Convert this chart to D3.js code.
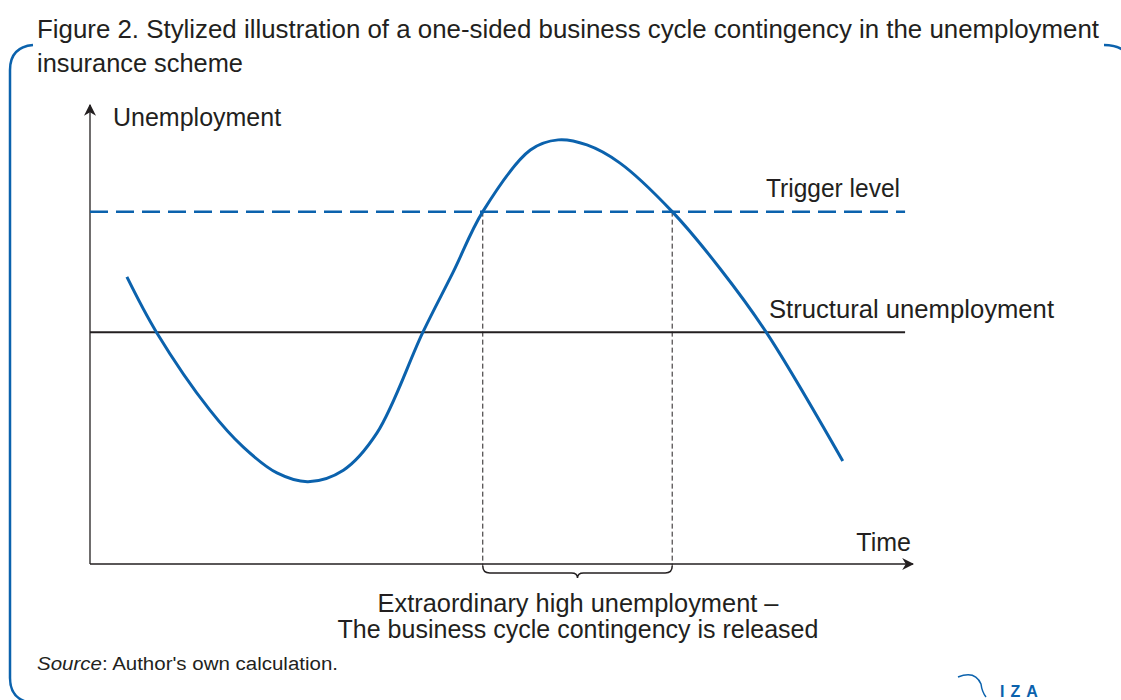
<!DOCTYPE html>
<html>
<meta charset="utf-8">
<script src="https://d3js.org/d3.v7.min.js"></script>
<style>
  body { margin: 0; background: #fff; }
  text { font-family: "Liberation Sans", Arial, sans-serif; fill: #231f20; }
</style>
<body>
<div id="chart"></div>
<script>
// stylized business cycle: time (0-100) vs unemployment (0-100)
var cycleTime = [4.5, 8.1, 14.6, 18.7, 22.8, 26.6, 30.9, 35.0, 40.6, 44.3,
                 47.9, 53.7, 57.1, 60.6, 64.6, 71.0, 76.8, 82.5, 91.8];
var cycleUnemp = [62.4, 50.4, 33.5, 25.4, 19.8, 17.9, 20.4, 28.5, 50.4, 63.5,
                  76.6, 90.0, 92.2, 91.1, 87.2, 76.6, 64.3, 50.3, 22.4];
var structuralLevel = 50.4;
var triggerLevel = 76.6;
var crossTimes = [47.9, 71.0];   // where the cycle crosses the trigger level
var lineEnd = 99.4;

var titleLines = ["Figure 2. Stylized illustration of a one-sided business cycle contingency in the unemployment",
                  "insurance scheme"];
var noteLines = ["Extraordinary high unemployment \u2013", "The business cycle contingency is released"];

var W = 1121, H = 700;
var blue = "#0b62ad";

var svg = d3.select("#chart").append("svg")
    .attr("width", W)
    .attr("height", H);

var x = d3.scaleLinear().domain([0, 100]).range([90, 910]);
var y = d3.scaleLinear().domain([0, 100]).range([564, 104]);

// stretch/shrink a text to the width it has in the figure
function fit(sel, w) {
  var n = sel.node();
  if (Math.abs(n.getComputedTextLength() - w) > 2) {
    sel.attr("textLength", w).attr("lengthAdjust", "spacingAndGlyphs");
  }
  return sel;
}

// frame
svg.append("path")
    .attr("d", "M33,45 Q10,47 10,70 L10,678 Q10,700 32,703")
    .attr("fill", "none").attr("stroke", blue).attr("stroke-width", 2.5);
svg.append("path")
    .attr("d", "M1104,45 Q1116,45 1123,50")
    .attr("fill", "none").attr("stroke", blue).attr("stroke-width", 2.5);

// title
fit(svg.append("text").attr("x", 37).attr("y", 38).style("font-size", "25px").text(titleLines[0]), 1062);
fit(svg.append("text").attr("x", 37).attr("y", 72).style("font-size", "25px").text(titleLines[1]), 206);

// arrow markers
var defs = svg.append("defs");
defs.append("marker")
    .attr("id", "arrow")
    .attr("viewBox", "0 0 10 10")
    .attr("refX", 9).attr("refY", 5)
    .attr("markerWidth", 12).attr("markerHeight", 12)
    .attr("markerUnits", "userSpaceOnUse")
    .attr("orient", "auto")
  .append("path")
    .attr("d", "M0,0 L10,5 L0,10 L3,5 Z")
    .attr("fill", "#231f20");

// axes
svg.append("line")
    .attr("x1", x(0)).attr("x2", x(0))
    .attr("y1", y(0)).attr("y2", y(100) + 1)
    .attr("stroke", "#231f20").attr("stroke-width", 1.3)
    .attr("marker-end", "url(#arrow)");
svg.append("line")
    .attr("x1", x(0)).attr("x2", x(100) + 3)
    .attr("y1", y(0)).attr("y2", y(0))
    .attr("stroke", "#231f20").attr("stroke-width", 1.3)
    .attr("marker-end", "url(#arrow)");

// structural unemployment
svg.append("line")
    .attr("x1", x(0)).attr("x2", x(lineEnd))
    .attr("y1", y(structuralLevel)).attr("y2", y(structuralLevel))
    .attr("stroke", "#231f20").attr("stroke-width", 2);

// trigger level
svg.append("line")
    .attr("x1", x(0)).attr("x2", x(lineEnd))
    .attr("y1", y(triggerLevel)).attr("y2", y(triggerLevel))
    .attr("stroke", blue).attr("stroke-width", 2.5)
    .attr("stroke-dasharray", "18,8");

// vertical dashed lines at crossings
svg.selectAll(".cross")
    .data(crossTimes)
  .enter().append("line")
    .attr("class", "cross")
    .attr("x1", function(d) { return x(d); })
    .attr("x2", function(d) { return x(d); })
    .attr("y1", y(triggerLevel))
    .attr("y2", y(0) + 2)
    .attr("stroke", "#231f20").attr("stroke-width", 1)
    .attr("stroke-dasharray", "5,3");

// brace under the axis
var bx0 = x(crossTimes[0]), bx1 = x(crossTimes[1]), bm = (bx0 + bx1) / 2;
var by = y(0);
svg.append("path")
    .attr("d", "M" + bx0 + "," + (by + 2) +
               " Q" + bx0 + "," + (by + 9) + " " + (bx0 + 7) + "," + (by + 9) +
               " L" + (bm - 6) + "," + (by + 9) +
               " Q" + bm + "," + (by + 9) + " " + bm + "," + (by + 14) +
               " Q" + bm + "," + (by + 9) + " " + (bm + 6) + "," + (by + 9) +
               " L" + (bx1 - 7) + "," + (by + 9) +
               " Q" + bx1 + "," + (by + 9) + " " + bx1 + "," + (by + 2))
    .attr("fill", "none").attr("stroke", "#231f20").attr("stroke-width", 1.5);

// business cycle curve
var cycle = cycleTime.map(function(t, i) { return { t: t, u: cycleUnemp[i] }; });
var line = d3.line()
    .x(function(d) { return x(d.t); })
    .y(function(d) { return y(d.u); })
    .curve(d3.curveCatmullRom.alpha(0.5));
svg.append("path")
    .datum(cycle)
    .attr("d", line)
    .attr("fill", "none")
    .attr("stroke", blue)
    .attr("stroke-width", 3);

// labels
fit(svg.append("text").attr("x", 113).attr("y", 126).style("font-size", "25px").text("Unemployment"), 170);
fit(svg.append("text").attr("x", 900).attr("y", 197).attr("text-anchor", "end").style("font-size", "25px").text("Trigger level"), 134);
fit(svg.append("text").attr("x", 769).attr("y", 318).style("font-size", "25px").text("Structural unemployment"), 285);
fit(svg.append("text").attr("x", 911).attr("y", 551).attr("text-anchor", "end").style("font-size", "25px").text("Time"), 55);
fit(svg.append("text").attr("x", 578).attr("y", 612).attr("text-anchor", "middle").style("font-size", "25px").text(noteLines[0]), 401);
fit(svg.append("text").attr("x", 578).attr("y", 638).attr("text-anchor", "middle").style("font-size", "25px").text(noteLines[1]), 480);

// source
var src = svg.append("text").attr("x", 37).attr("y", 670).style("font-size", "18px");
src.append("tspan").style("font-style", "italic").text("Source");
src.append("tspan").text(": Author's own calculation.");
fit(src, 301);

// IZA logo
svg.append("path")
    .attr("d", "M958,677 Q975,670 981,684 Q982,692 986,697")
    .attr("fill", "none").attr("stroke", blue).attr("stroke-width", 1.5);
svg.append("text")
    .attr("x", 1000).attr("y", 697)
    .style("font-size", "16px").style("font-weight", "bold")
    .style("letter-spacing", "6px")
    .style("fill", blue)
    .text("IZA");
</script>
</body>
</html>
